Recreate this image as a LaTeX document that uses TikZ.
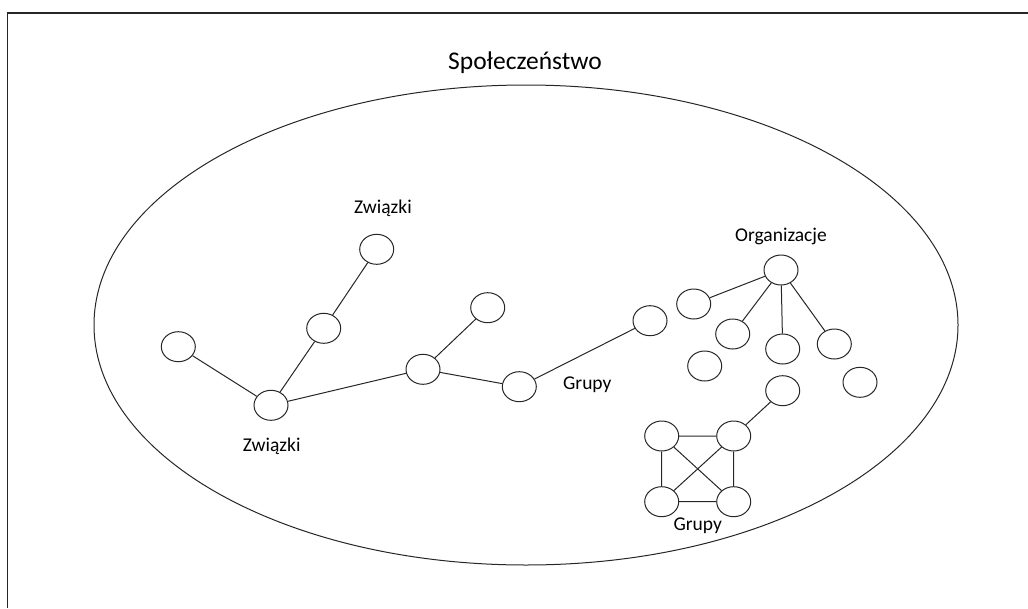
\documentclass[tikz,border=0pt]{standalone}
\usepackage{fontspec}
\setmainfont{Carlito}
\usetikzlibrary{shapes.geometric}
\begin{document}
\begin{tikzpicture}[x=1pt,y=-1pt,
  vtx/.style={ellipse,draw=black!85,line width=1pt,minimum width=34pt,minimum height=30pt,inner sep=0pt},
  link/.style={draw=black!85,line width=1pt},
  lbl/.style={inner sep=0pt,font=\fontsize{19.5}{22}\selectfont},
  ttl/.style={inner sep=0pt,font=\fontsize{25.5}{30}\selectfont}]
\useasboundingbox (0,0) rectangle (1028,608);
% page frame (top and left edges)
\draw[line width=1.3pt,black!85] (1028,13) -- (7.5,13) -- (7.5,608);
% society
\node[ttl] (title) at (525,63) {Społeczeństwo};
\draw[line width=1pt,black!85] (526,325) ellipse [x radius=432, y radius=240];
% unions tree
\node[vtx] (a) at (376.7,249.3) {};
\node[vtx] (b) at (323.7,328.3) {};
\node[vtx] (c) at (178.3,346.7) {};
\node[vtx] (d) at (271,405.3) {};
\node[vtx] (e) at (423,369.3) {};
\node[vtx] (f) at (487.7,307.7) {};
\node[vtx] (g) at (519.3,386.7) {};
\node[lbl] (zt) at (383,208) {Związki};
\node[lbl] (zb) at (271.7,446) {Związki};
\node[lbl] (gm) at (587.3,385) {Grupy};
% organisations
\node[vtx] (h) at (781,270) {};
\node[vtx] (i) at (693.7,304) {};
\node[vtx] (j) at (650,320.7) {};
\node[vtx] (k) at (732.7,334) {};
\node[vtx] (l) at (782.7,349) {};
\node[vtx] (m) at (834.3,344) {};
\node[vtx] (n) at (704.7,366) {};
\node[vtx] (o) at (860,382.3) {};
\node[vtx] (p) at (782.7,390.7) {};
\node[lbl] (org) at (781,236) {Organizacje};
% group square
\node[vtx] (q) at (661.7,436) {};
\node[vtx] (r) at (733.7,436) {};
\node[vtx] (s) at (661.7,501.7) {};
\node[vtx] (t) at (733.7,501.7) {};
\node[lbl] (gb) at (697.7,526) {Grupy};
% connectors
\path[link] (c) -- (d) (d) -- (b) (b) -- (a) (d) -- (e) (e) -- (f) (e) -- (g) (g) -- (j);
\path[link] (h) -- (i) (h) -- (k) (h) -- (l) (h) -- (m);
\path[link] (p) -- (r);
\path[link] (q) -- (r) (q) -- (s) (r) -- (t) (s) -- (t) (q) -- (t) (r) -- (s);
\end{tikzpicture}
\end{document}
